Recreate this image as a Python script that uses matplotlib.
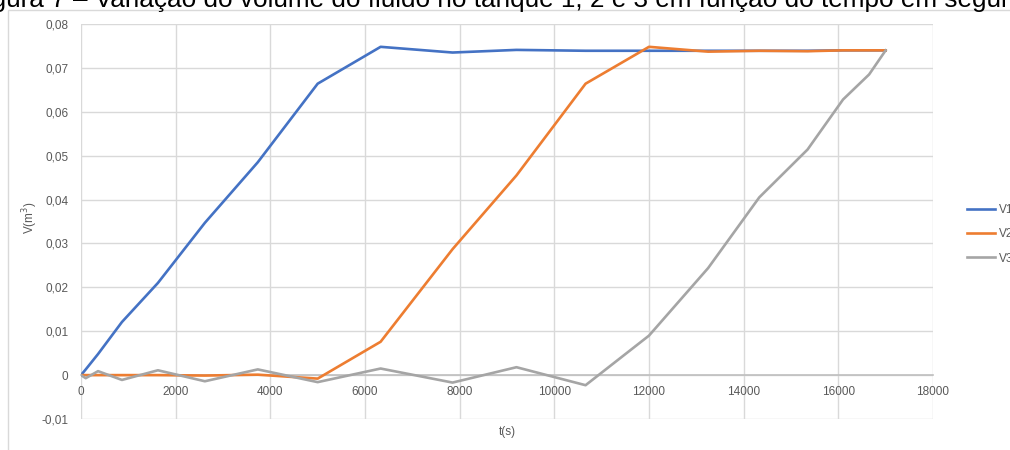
import matplotlib
matplotlib.use("Agg")
import matplotlib.pyplot as plt
from matplotlib.patches import Rectangle
from matplotlib.ticker import FuncFormatter, MultipleLocator

# sampled times (s) and tank volumes (m³)
t = [0, 100, 360, 865, 1625, 2617, 3735, 5000, 6330, 7850, 9200, 10660,
     12000, 13250, 14330, 15350, 16100, 16650, 17000]
v1 = [0, 0.0013, 0.0048, 0.0121, 0.0210, 0.0347, 0.0485, 0.0664, 0.0748,
      0.0735, 0.0741, 0.0739, 0.0739, 0.0739, 0.0739, 0.0739, 0.0740, 0.0740, 0.0740]
v2 = [0, 0, 0, 0, 0, -0.0001, 0.0001, -0.0008, 0.0076, 0.0287, 0.0455,
      0.0664, 0.0748, 0.0737, 0.0739, 0.0738, 0.0740, 0.0740, 0.0740]
v3 = [0, -0.0007, 0.0009, -0.0011, 0.0011, -0.0014, 0.0013, -0.0016, 0.0015,
      -0.0017, 0.0018, -0.0023, 0.0090, 0.0244, 0.0405, 0.0514, 0.0628, 0.0685, 0.0740]
series = [("V1", v1, "#4472C4"), ("V2", v2, "#ED7D31"), ("V3", v3, "#A5A5A5")]

title = ("Figura 7 – Variação do volume do fluido no tanque 1, 2 e 3 "
         "em função do tempo em segundos")

plt.rcParams["font.family"] = ["Liberation Sans", "DejaVu Sans"]

fig = plt.figure(figsize=(10.1, 4.5), dpi=100)
ax = fig.add_axes([81 / 1010, 31 / 450, 852 / 1010, 395 / 450])

for name, v, c in series:
    ax.plot(t, v, color=c, lw=1.9, label=name, solid_joinstyle="round")

ax.set_xlim(0, 18000)
ax.set_ylim(-0.01, 0.08)
ax.xaxis.set_major_locator(MultipleLocator(2000))
ax.yaxis.set_major_locator(MultipleLocator(0.01))
ax.grid(True, color="#d9d9d9", lw=1)
ax.set_axisbelow(True)

for s in ("top", "right", "left"):
    ax.spines[s].set_visible(False)
ax.spines["bottom"].set_position(("data", 0))
ax.spines["bottom"].set_color("#bfbfbf")
ax.spines["bottom"].set_linewidth(1.2)
ax.spines["bottom"].set_zorder(1.5)

ax.tick_params(length=0, labelsize=8.5, colors="#595959")
ax.tick_params(axis="y", pad=9)
ax.tick_params(axis="x", pad=8)


def comma(val, pos):
    if abs(val) < 1e-9:
        return "0"
    return f"{val:.2f}".replace(".", ",")


ax.yaxis.set_major_formatter(FuncFormatter(comma))

fig.text(30 / 1010, 1 - 218 / 450, "V(m$^3$)", rotation=90, ha="center",
         va="center", fontsize=8.5, color="#595959")
fig.text(507 / 1010, 1 - 432 / 450, "t(s)", ha="center", va="center",
         fontsize=8.5, color="#595959")

# chart-area border
fig.add_artist(Rectangle((8 / 1010, -0.1), 1.2, 1 - 10 / 450 + 0.1,
                         transform=fig.transFigure, fill=False,
                         ec="#d9d9d9", lw=1))

fig.legend(loc="upper left", bbox_to_anchor=(962 / 1010, 1 - 199 / 450),
           frameon=False, fontsize=8.5, labelcolor="#595959", handlelength=2.4,
           handletextpad=0.3, labelspacing=1.05, borderaxespad=0)

fig.text(-30 / 1010, 1 - 7 / 450, title, ha="left", va="baseline",
         fontsize=18.8, color="black")

fig.savefig("out.png", dpi=100)
